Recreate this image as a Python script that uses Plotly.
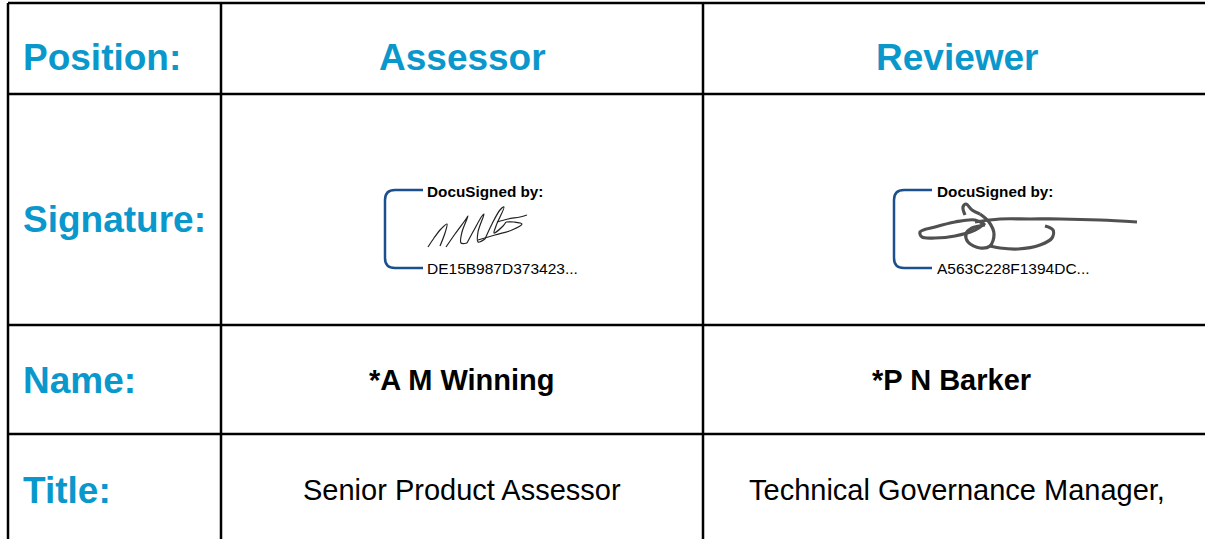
import plotly.graph_objects as go

# ---- table content ----
row_labels = ["Position:", "Signature:", "Name:", "Title:"]
roles = ["Assessor", "Reviewer"]
signer_ids = ["DE15B987D373423...", "A563C228F1394DC..."]
names = ["*A M Winning", "*P N Barker"]
titles = ["Senior Product Assessor", "Technical Governance Manager,"]

# ---- layout grid (pixels) ----
W, H = 1205, 539
col_edges = [8, 221, 703]
row_edges = [3, 94, 325, 434]
col_centers = [462, 957]
name_centers = [462, 951]
row_text_y = [57, 219, 380, 490]
BLUE = "#0A98CC"
FONT = "Liberation Sans, Arial, sans-serif"

# signature strokes (decorative handwriting)
sig1_strokes = [
    [(428, 247), (434, 238), (441, 229), (447, 224), (445, 233), (440, 246)],
    [(446, 247), (455, 234), (466, 219), (468, 216), (462, 232), (461, 243), (467, 243)],
    [(467, 243), (474, 230), (482, 216), (484, 214), (478, 232), (478, 242), (485, 239)],
    [(485, 239), (492, 224), (500, 210), (504, 207), (496, 226), (494, 233), (503, 226), (506, 222)],
    [(506, 222), (514, 222), (522, 224), (512, 230), (495, 235), (478, 240)],
    [(497, 222), (508, 219), (520, 217), (527, 215)],
]
sig2_strokes = [
    [(965, 215), (963, 207), (966, 204), (972, 210), (980, 214)],
    [(980, 214), (989, 222), (994, 234), (990, 246), (980, 248), (968, 242), (966, 234), (972, 228), (985, 225)],
    [(985, 225), (975, 220), (955, 222), (935, 227), (920, 232), (922, 237), (935, 238), (955, 236), (975, 230), (985, 223)],
    [(975, 222), (1000, 219), (1030, 219), (1060, 219), (1100, 220), (1137, 222)],
    [(1045, 226), (1053, 230), (1052, 238), (1040, 245), (1018, 249), (1000, 248), (990, 246)],
]

fig = go.Figure()

for strokes, color, width in [(sig1_strokes, "#222222", 1.2), (sig2_strokes, "#505050", 3.2)]:
    for s in strokes:
        fig.add_trace(go.Scatter(
            x=[p[0] for p in s], y=[p[1] for p in s], mode="lines",
            line=dict(color=color, width=width, shape="spline", smoothing=1.0),
            hoverinfo="skip", showlegend=False))

shapes = []
LW = 2.5
for y in row_edges:
    shapes.append(dict(type="line", x0=col_edges[0], x1=W + 10, y0=y, y1=y,
                       line=dict(color="black", width=LW)))
for x in col_edges:
    shapes.append(dict(type="line", x0=x, x1=x, y0=row_edges[0], y1=H + 10,
                       line=dict(color="black", width=LW)))

for bx in [385, 894]:
    ex = bx + 38
    path = (f"M {ex},190 L {bx+10},190 Q {bx},190 {bx},200 "
            f"L {bx},258 Q {bx},268 {bx+10},268 L {ex},268")
    shapes.append(dict(type="path", path=path, line=dict(color="#1B4F8E", width=2.5)))

annotations = []
for lbl, y in zip(row_labels, row_text_y):
    annotations.append(dict(x=21, y=y, text=f"<b>{lbl}</b>", showarrow=False,
                            xanchor="left", yanchor="middle",
                            font=dict(family=FONT, size=37, color=BLUE)))
for role, cx in zip(roles, col_centers):
    annotations.append(dict(x=cx, y=row_text_y[0], text=f"<b>{role}</b>", showarrow=False,
                            xanchor="center", yanchor="middle",
                            font=dict(family=FONT, size=37, color=BLUE)))
for nm, cx in zip(names, name_centers):
    annotations.append(dict(x=cx, y=row_text_y[2], text=f"<b>{nm}</b>", showarrow=False,
                            xanchor="center", yanchor="middle",
                            font=dict(family=FONT, size=29, color="black")))
for tt, cx in zip(titles, col_centers):
    annotations.append(dict(x=cx, y=row_text_y[3], text=tt, showarrow=False,
                            xanchor="center", yanchor="middle",
                            font=dict(family=FONT, size=29, color="black")))
for sid, tx in zip(signer_ids, [425, 935]):
    annotations.append(dict(x=tx, y=191, text="<b>DocuSigned by:</b>", showarrow=False,
                            xanchor="left", yanchor="middle",
                            font=dict(family=FONT, size=15.3, color="black")))
    annotations.append(dict(x=tx, y=268, text=sid, showarrow=False,
                            xanchor="left", yanchor="middle",
                            font=dict(family=FONT, size=15.5, color="black")))

fig.update_layout(
    width=W, height=H, margin=dict(l=0, r=0, t=0, b=0),
    paper_bgcolor="white", plot_bgcolor="white",
    xaxis=dict(range=[0, W], visible=False, fixedrange=True),
    yaxis=dict(range=[H, 0], visible=False, fixedrange=True),
    shapes=shapes, annotations=annotations, showlegend=False,
)
fig.write_html("out.html", config={"displayModeBar": False},
               post_script="document.body.style.margin='0px';document.body.style.overflow='hidden';")
